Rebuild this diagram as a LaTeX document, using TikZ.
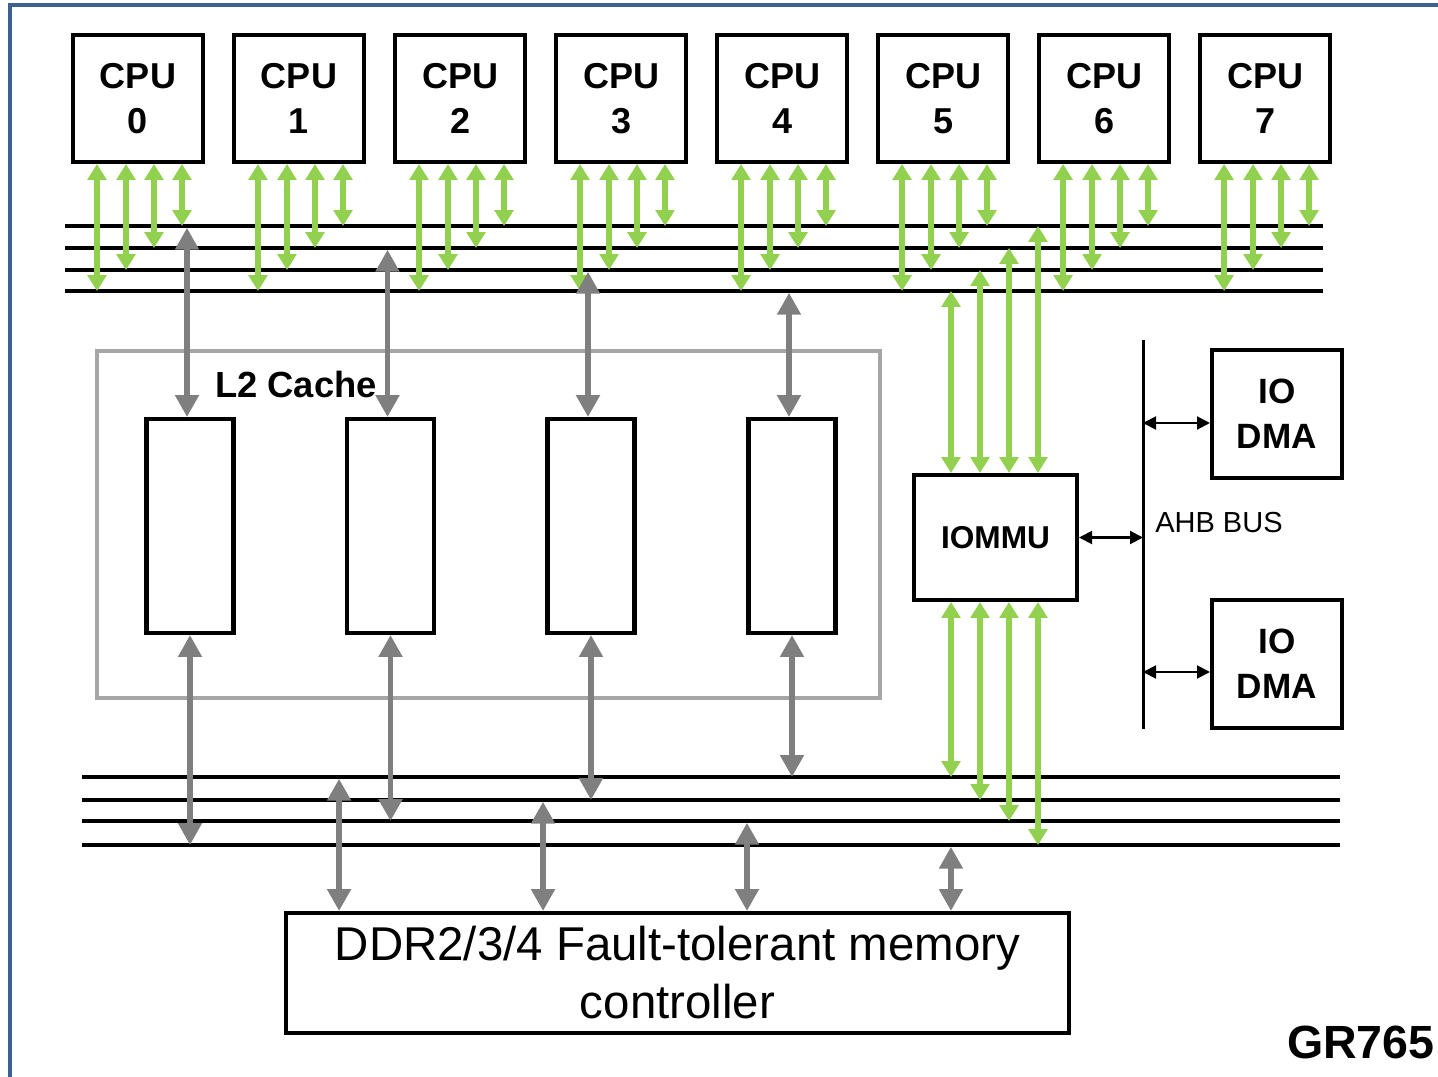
\documentclass[tikz,border=0pt]{standalone}
\usepackage{fontspec}
\setmainfont{Liberation Sans}
\usepackage{xcolor}
\usetikzlibrary{positioning,arrows.meta}

\definecolor{linkgreen}{HTML}{92D050}
\definecolor{linkgray}{HTML}{7F7F7F}
\definecolor{cachegray}{HTML}{A6A6A6}
\definecolor{frameblue}{RGB}{59,96,146}

\begin{document}
\begin{tikzpicture}[
  x=0.02cm, y=-0.02cm,
  blk/.style={draw, rectangle, line width=2.3pt, inner sep=0pt, align=center},
  cpu/.style={blk, minimum width=2.6cm, minimum height=2.54cm, font=\fontsize{20.5}{25.6}\selectfont\bfseries},
  bank/.style={blk, minimum width=1.74cm, minimum height=4.28cm},
  dma/.style={blk, minimum width=2.6cm, minimum height=2.56cm, font=\fontsize{20}{25.6}\selectfont\bfseries},
  bus/.style={line width=1.9pt},
  garrow/.style={{Triangle[width=10.5pt,length=9pt]}-{Triangle[width=10.5pt,length=9pt]}, line width=3.2pt, linkgreen},
  carrow/.style={{Triangle[width=13pt,length=12.5pt]}-{Triangle[width=13pt,length=12.5pt]}, line width=3.4pt, linkgray},
  barrow/.style={{Triangle[width=7.4pt,length=7.4pt]}-{Triangle[width=7.4pt,length=7.4pt]}, line width=1.15pt}
]
\useasboundingbox (0,0) rectangle (1438,1076);
\begin{scope}
  \clip (0,0) rectangle (1438,1076);
  \draw[frameblue, line width=2.3pt] (10,5) rectangle (1480,1120);
\end{scope}

% processors
\node[cpu] (cpu0) at (138,98.5) {CPU\\0};
\foreach \i [remember=\i as \j (initially 0)] in {1,...,7}
  \node[cpu, right=0.54cm of cpu\j] (cpu\i) {CPU\\\i};

% processor bus and memory bus
\foreach \k/\y in {1/226,2/248,3/270,4/291} {
  \coordinate (tb\k) at (65,\y);
  \draw[bus] (tb\k) -- ++(1258,0);
}
\foreach \k/\y in {1/777,2/800,3/821,4/845} {
  \coordinate (bb\k) at (82,\y);
  \draw[bus] (bb\k) -- ++(1258,0);
}

% L2 cache
\node[draw=cachegray, line width=2.3pt, minimum width=15.66cm, minimum height=6.94cm, inner sep=0pt] (l2) at (488.5,524.5) {};
\node[inner sep=0pt, font=\fontsize{20.7}{24}\selectfont\bfseries] (l2lbl) at (296,384) {L2 Cache};
\foreach \i/\x in {0/190,1/390.5,2/591,3/792}
  \node[bank] (bank\i) at (\x,526) {};

% memory controller, iommu, io
\node[blk, minimum width=15.66cm, minimum height=2.4cm, font=\fontsize{27}{33}\selectfont] (ddr) at (677.5,973) {DDR2/3/4 Fault-tolerant memory\\controller};
\node[blk, minimum width=3.26cm, minimum height=2.5cm, font=\fontsize{18}{22}\selectfont\bfseries] (iommu) at (995.5,537.5) {IOMMU};
\node[dma] (dma1) at (1277,414) {IO\\DMA};
\node[dma, below=2.36cm of dma1] (dma2) {IO\\DMA};
\coordinate (ahbtop) at (1143,340);
\coordinate (ahbbot) at (1143,729);
\draw[line width=1.7pt] (ahbtop) -- (ahbbot);
\node[anchor=west, inner sep=0pt, font=\fontsize{16.5}{19}\selectfont] (ahblbl) at (1155,523) {AHB BUS};
\node[anchor=base east, inner sep=0pt, font=\fontsize{26.5}{30}\selectfont\bfseries] (chip) at (1435,1058) {GR765};

% cpu links
\foreach \i in {0,...,7}
  \foreach \dx/\k in {-0.82/4,-0.24/3,0.32/2,0.88/1} {
    \coordinate (g) at ([xshift=\dx cm]cpu\i.south);
    \draw[garrow] (g) -- (g |- tb\k);
  }

% cache links
\foreach \i/\k in {0/1,1/2,2/3,3/4} {
  \coordinate (c) at ([xshift=-0.06cm]bank\i.north);
  \draw[carrow, shorten <=1pt] (c |- tb\k) -- (c);
}
\foreach \i/\k in {0/4,1/3,2/2,3/1}
  \draw[carrow] (bank\i.south) -- (bank\i.south |- bb\k);
\foreach \dx/\k in {-6.77/1,-2.69/2,1.39/3,5.47/4} {
  \coordinate (d) at ([xshift=\dx cm]ddr.north);
  \draw[carrow, shorten <=1pt] (d |- bb\k) -- (d);
}

% iommu links
\foreach \dx/\k in {-0.89/4,-0.31/3,0.27/2,0.85/1} {
  \coordinate (m) at ([xshift=\dx cm]iommu.north);
  \draw[garrow] (m |- tb\k) -- (m);
}
\foreach \dx/\k in {-0.89/1,-0.31/2,0.27/3,0.85/4} {
  \coordinate (m) at ([xshift=\dx cm]iommu.south);
  \draw[garrow] (m) -- (m |- bb\k);
}

% ahb links
\draw[barrow] (iommu.east) -- (iommu.east -| ahbtop);
\coordinate (k1) at ([yshift=-0.18cm]dma1.west);
\coordinate (k2) at ([yshift=-0.16cm]dma2.west);
\draw[barrow] (k1 -| ahbtop) -- (k1);
\draw[barrow] (k2 -| ahbtop) -- (k2);
\end{tikzpicture}
\end{document}
